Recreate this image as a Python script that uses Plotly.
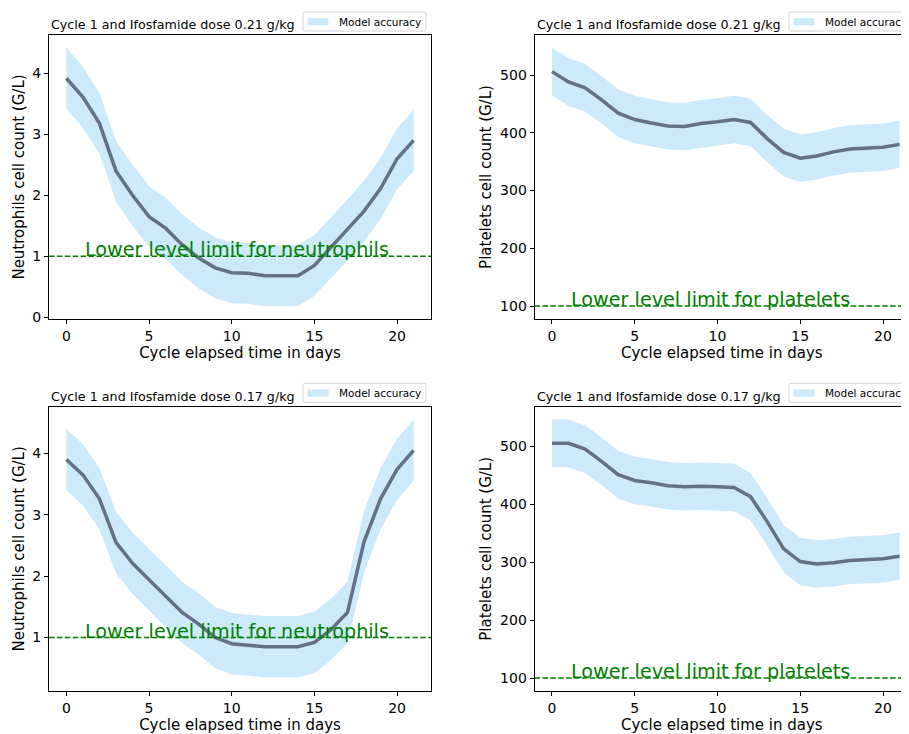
import plotly.graph_objects as go

days = list(range(22))

# Top-left: neutrophils, dose 0.21 g/kg
neu_021_mean = [3.92, 3.61, 3.18, 2.40, 2.00, 1.65, 1.46, 1.19, 0.97, 0.81, 0.73, 0.72, 0.68, 0.68, 0.68,
                0.85, 1.14, 1.43, 1.74, 2.11, 2.60, 2.90]
neu_021_low = [3.42, 3.11, 2.68, 1.90, 1.50, 1.15, 0.96, 0.69, 0.47, 0.31, 0.23, 0.22, 0.18, 0.18, 0.18,
               0.35, 0.64, 0.93, 1.24, 1.61, 2.10, 2.40]
neu_021_up = [4.42, 4.11, 3.68, 2.90, 2.50, 2.15, 1.96, 1.69, 1.47, 1.31, 1.23, 1.22, 1.18, 1.18, 1.18,
              1.35, 1.64, 1.93, 2.24, 2.61, 3.10, 3.40]

# Top-right: platelets, dose 0.21 g/kg
pla_021_mean = [506, 488, 478, 457, 434, 423, 417, 412, 411, 416, 419, 423, 418, 390, 366,
                356, 360, 367, 372, 373, 375, 380]
pla_021_low = [465, 447, 437, 416, 393, 382, 376, 371, 370, 375, 378, 382, 377, 349, 325,
               315, 319, 326, 331, 332, 334, 339]
pla_021_up = [547, 529, 519, 498, 475, 464, 458, 453, 452, 457, 460, 464, 459, 431, 407,
              397, 401, 408, 413, 414, 416, 421]

# Bottom-left: neutrophils, dose 0.17 g/kg
neu_017_mean = [3.90, 3.65, 3.26, 2.55, 2.21, 1.94, 1.67, 1.41, 1.22, 1.00, 0.90, 0.88, 0.85, 0.85, 0.85,
                0.92, 1.13, 1.41, 2.56, 3.26, 3.74, 4.05]
neu_017_low = [3.40, 3.15, 2.76, 2.05, 1.71, 1.44, 1.17, 0.91, 0.72, 0.50, 0.40, 0.38, 0.35, 0.35, 0.35,
               0.42, 0.63, 0.91, 2.06, 2.76, 3.24, 3.55]
neu_017_up = [4.40, 4.15, 3.76, 3.05, 2.71, 2.44, 2.17, 1.91, 1.72, 1.50, 1.40, 1.38, 1.35, 1.35, 1.35,
              1.42, 1.63, 1.91, 3.06, 3.76, 4.24, 4.55]

# Bottom-right: platelets, dose 0.17 g/kg
pla_017_mean = [505, 505, 495, 474, 451, 441, 437, 432, 430, 431, 430, 429, 413, 370, 323,
                301, 297, 299, 303, 304, 306, 310]
pla_017_low = [464, 464, 454, 433, 410, 400, 396, 391, 389, 390, 389, 388, 372, 329, 282,
               260, 256, 258, 262, 263, 265, 269]
pla_017_up = [546, 546, 536, 515, 492, 482, 478, 473, 471, 472, 471, 470, 454, 411, 364,
              342, 338, 340, 344, 345, 347, 351]

titles = ["Cycle 1 and Ifosfamide dose 0.21 g/kg", "Cycle 1 and Ifosfamide dose 0.21 g/kg",
          "Cycle 1 and Ifosfamide dose 0.17 g/kg", "Cycle 1 and Ifosfamide dose 0.17 g/kg"]
y_titles = ["Neutrophils cell count (G/L)", "Platelets cell count (G/L)",
            "Neutrophils cell count (G/L)", "Platelets cell count (G/L)"]
limit_labels = ["Lower level limit for neutrophils", "Lower level limit for platelets",
                "Lower level limit for neutrophils", "Lower level limit for platelets"]
limit_values = [1, 100, 1, 100]
x_label = "Cycle elapsed time in days"
legend_label = "Model accuracy"

# The page body has an 8px margin, so the figure is 8px smaller and all
# reference pixel positions are shifted by 8px.
OFF = 8
W, H = 909 - OFF, 734 - OFF
FONT = "DejaVu Sans"
BAND = "#cde9fc"
LINE = "#627284"
GREEN = "#008000"

# panel geometry in reference pixels: (left, right, top, bottom)
panels = [(49, 431, 35, 319), (534.6, 909, 35, 319), (49, 431, 406.7, 691), (534.6, 909, 406.7, 691)]
x_ranges = [[-1.05, 22.05], [-1.05, 21.57], [-1.05, 22.05], [-1.05, 21.57]]
y_ranges = [[-0.03, 4.63], [77.6, 569.4], [0.13, 4.76], [77.6, 568.3]]
y_ticks = [[0, 1, 2, 3, 4], [100, 200, 300, 400, 500], [1, 2, 3, 4], [100, 200, 300, 400, 500]]
legend_pos = [(303, 12), (789, 12), (303, 383.3), (789, 383.3)]


def px(x):
    return (x - OFF) / W


def py(y):
    return 1 - (y - OFF) / H


data = [(neu_021_mean, neu_021_low, neu_021_up), (pla_021_mean, pla_021_low, pla_021_up),
        (neu_017_mean, neu_017_low, neu_017_up), (pla_017_mean, pla_017_low, pla_017_up)]

fig = go.Figure()
annotations = []
shapes = []
for i, (mean, low, up) in enumerate(data):
    n = i + 1
    xa = "x" if n == 1 else f"x{n}"
    ya = "y" if n == 1 else f"y{n}"
    fig.add_trace(go.Scatter(
        x=days + days[::-1], y=up + low[::-1], fill="toself", fillcolor=BAND,
        line=dict(width=0, color=BAND), mode="lines", name=legend_label,
        xaxis=xa, yaxis=ya, showlegend=False, hoverinfo="skip"))
    fig.add_trace(go.Scatter(
        x=days, y=mean, mode="lines", line=dict(color=LINE, width=3.5),
        xaxis=xa, yaxis=ya, showlegend=False))
    l, r, t, b = panels[i]
    dom_x = [max(0.0, px(l)), min(1.0, px(r))]
    dom_y = [py(b), py(t)]
    mirror_y = (n in (1, 3))
    fig.update_layout(**{
        ("xaxis" if n == 1 else f"xaxis{n}"): dict(
            domain=dom_x, range=x_ranges[i], anchor=ya, tickvals=[0, 5, 10, 15, 20],
            showline=True, linecolor="black", linewidth=1, mirror=True, automargin=False,
            ticks="outside", ticklen=4, tickcolor="black", showgrid=False, zeroline=False,
            tickfont=dict(family=FONT, size=14, color="black"),
            title=dict(text=x_label, font=dict(family=FONT, size=15, color="black"), standoff=2)),
        ("yaxis" if n == 1 else f"yaxis{n}"): dict(
            domain=dom_y, range=y_ranges[i], anchor=xa, tickvals=y_ticks[i],
            showline=True, linecolor="black", linewidth=1, mirror=mirror_y, automargin=False,
            ticks="outside", ticklen=4, tickcolor="black", showgrid=False, zeroline=False,
            tickfont=dict(family=FONT, size=14, color="black"),
            title=dict(text=y_titles[i], font=dict(family=FONT, size=15, color="black"), standoff=4)),
    })
    # lower limit line and label
    shapes.append(dict(type="line", xref=f"{xa} domain", yref=ya, x0=0, x1=1,
                       y0=limit_values[i], y1=limit_values[i],
                       line=dict(color=GREEN, width=1.5, dash="5.5px,2.4px")))
    annotations.append(dict(x=1, y=limit_values[i], xref=xa, yref=ya, text=limit_labels[i],
                            showarrow=False, xanchor="left", yanchor="bottom", yshift=-7,
                            font=dict(family=FONT, size=19.2, color=GREEN)))
    # panel title
    annotations.append(dict(x=px(l), y=py(t - 10), xref="paper", yref="paper", text=titles[i],
                            showarrow=False, xanchor="left", yanchor="middle",
                            font=dict(family=FONT, size=12.7, color="black")))
    # legend box (drawn)
    lx, ly = legend_pos[i]
    x0, x1, y0, y1 = lx, lx + 123, ly, ly + 19
    rr = 2
    path = (f"M {px(x0 + rr)},{py(y0)} L {px(x1 - rr)},{py(y0)} Q {px(x1)},{py(y0)} {px(x1)},{py(y0 + rr)} "
            f"L {px(x1)},{py(y1 - rr)} Q {px(x1)},{py(y1)} {px(x1 - rr)},{py(y1)} "
            f"L {px(x0 + rr)},{py(y1)} Q {px(x0)},{py(y1)} {px(x0)},{py(y1 - rr)} "
            f"L {px(x0)},{py(y0 + rr)} Q {px(x0)},{py(y0)} {px(x0 + rr)},{py(y0)} Z")
    shapes.append(dict(type="path", xref="paper", yref="paper", path=path,
                       fillcolor="rgba(255,255,255,0.8)", line=dict(color="#d4d4d4", width=1)))
    shapes.append(dict(type="rect", xref="paper", yref="paper",
                       x0=px(lx + 4.5), x1=px(lx + 25.5), y0=py(ly + 13.5), y1=py(ly + 6),
                       fillcolor=BAND, line=dict(width=0)))
    annotations.append(dict(x=px(lx + 34), y=py(ly + 9.8), xref="paper", yref="paper",
                            text=legend_label, showarrow=False, xanchor="left", yanchor="middle",
                            font=dict(family=FONT, size=10.5, color="black")))

fig.update_layout(width=W, height=H, margin=dict(l=0, r=0, t=0, b=0),
                  paper_bgcolor="white", plot_bgcolor="white",
                  annotations=annotations, shapes=shapes)
fig.write_html("out.html")
